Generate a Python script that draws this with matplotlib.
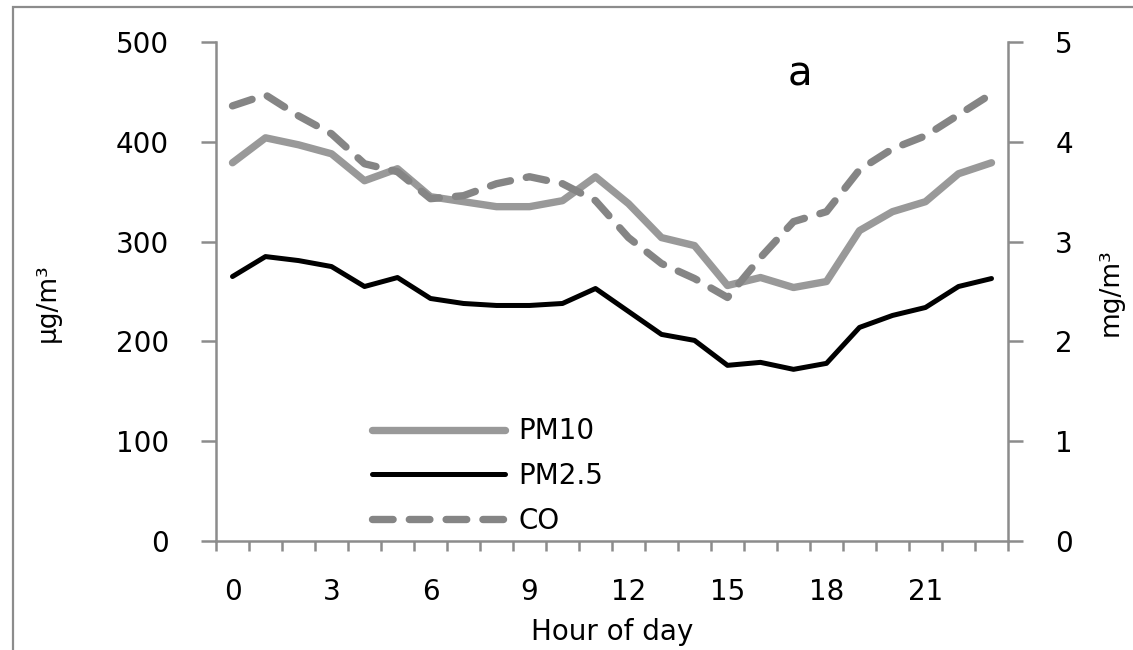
import numpy as np
import matplotlib
matplotlib.use('Agg')
import matplotlib.pyplot as plt
from matplotlib.patches import Rectangle
from matplotlib.ticker import FixedLocator

hours = list(range(24))
pm10 = [379, 404, 397, 388, 361, 373, 345, 340, 335, 335, 341, 365,
        338, 304, 296, 256, 264, 254, 260, 311, 330, 340, 368, 379]
pm25 = [265, 285, 281, 275, 255, 264, 243, 238, 236, 236, 238, 253,
        230, 207, 201, 176, 179, 172, 178, 214, 226, 234, 255, 263]
co = [4.36, 4.47, 4.26, 4.08, 3.78, 3.70, 3.43, 3.46, 3.58, 3.65, 3.58, 3.41,
      3.04, 2.78, 2.63, 2.44, 2.84, 3.20, 3.30, 3.72, 3.93, 4.06, 4.27, 4.48]
xtick_labels = ['0', '3', '6', '9', '12', '15', '18', '21']

spine_col = '#8c8c8c'
plt.rcParams['font.family'] = ['DejaVu Sans']
fs = 20

fig = plt.figure(figsize=(11.33, 6.5), dpi=100)
ax = fig.add_axes([216 / 1133, 1 - 541 / 650, (1008 - 216) / 1133, (541 - 42) / 650])
ax2 = ax.twinx()

# outer frame (only left/top visible in the original)
fig.add_artist(Rectangle((13 / 1133, -0.1), 1.2, 1 - 7 / 650 + 0.1,
                         transform=fig.transFigure, fill=False,
                         edgecolor=spine_col, linewidth=1.6, clip_on=False))

l1, = ax.plot(hours, pm10, color='#999999', lw=5.3, solid_capstyle='round',
              solid_joinstyle='round', label='PM10')
l2, = ax.plot(hours, pm25, color='black', lw=3.6, solid_capstyle='round',
              solid_joinstyle='round', label='PM2.5')
l3, = ax2.plot(hours, co, color='#858585', lw=5.3, dashes=(2.8, 2.2),
               dash_capstyle='round', label='CO')

ax.set_xlim(-0.5, 23.5)
ax.set_ylim(0, 500)
ax2.set_ylim(0, 5)
ax.set_yticks([0, 100, 200, 300, 400, 500])
ax2.set_yticks([0, 1, 2, 3, 4, 5])
ax.set_xticks([0, 3, 6, 9, 12, 15, 18, 21])
ax.set_xticklabels(xtick_labels)
ax.xaxis.set_minor_locator(FixedLocator(np.arange(-0.5, 24, 1)))

for a in (ax, ax2):
    for s in a.spines.values():
        s.set_visible(False)
ax.spines['left'].set_visible(True)
ax.spines['bottom'].set_visible(True)
ax2.spines['right'].set_visible(True)
for s in (ax.spines['left'], ax.spines['bottom'], ax2.spines['right']):
    s.set_color(spine_col)
    s.set_linewidth(1.8)

ax.tick_params(axis='y', length=11, width=1.8, color=spine_col, pad=23, labelsize=fs)
ax2.tick_params(axis='y', length=11, width=1.8, color=spine_col, pad=23, labelsize=fs)
ax.tick_params(axis='x', which='major', length=0, pad=27, labelsize=fs)
ax.tick_params(axis='x', which='minor', length=7.5, width=1.8, color=spine_col)

ax.set_xlabel('Hour of day', fontsize=fs, labelpad=8)
fig.text(48 / 1133, 1 - 303 / 650, 'µg/m³', rotation=90, ha='center', va='center',
         fontsize=19)
fig.text(1111 / 1133, 1 - 292 / 650, 'mg/m³', rotation=90, ha='center', va='center',
         fontsize=19)

ax.text(17.2, 467, 'a', fontsize=29, ha='center', va='center')

ax.legend(handles=[l1, l2, l3], loc='upper left', bbox_to_anchor=(0.183, 0.27),
          frameon=False, fontsize=fs, handlelength=4.8, handletextpad=0.47,
          labelspacing=0.6, borderaxespad=0)

fig.savefig('out.png', dpi=100)
